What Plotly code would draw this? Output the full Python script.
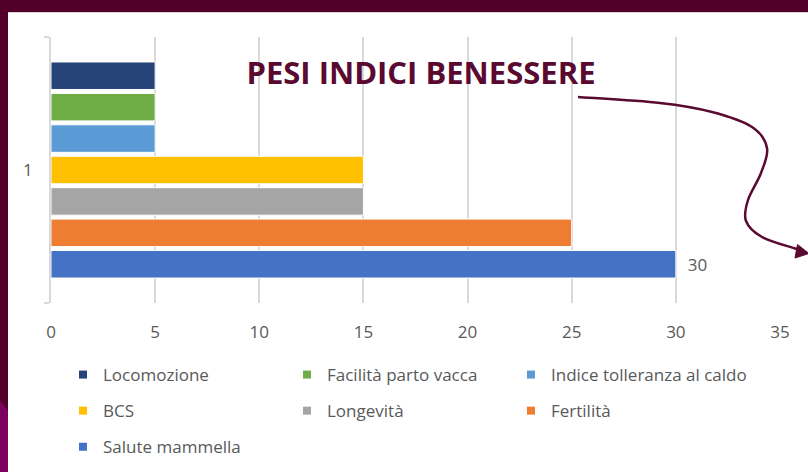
import plotly.graph_objects as go

# ---- data ----
series_names = ["Salute mammella", "Fertilità", "Longevità", "BCS",
                "Indice tolleranza al caldo", "Facilità parto vacca", "Locomozione"]
series_values = [30, 25, 15, 15, 5, 5, 5]
series_colors = ["#4472C4", "#ED7D31", "#A5A5A5", "#FFC000",
                 "#5B9BD5", "#70AD47", "#264478"]
category = ["1"]
x_ticks = [0, 5, 10, 15, 20, 25, 30, 35]
labelled_series = ["Salute mammella"]
# legend columns (top-to-bottom within each column)
legend_cols = [["Locomozione", "BCS", "Salute mammella"],
               ["Facilità parto vacca", "Longevità"],
               ["Indice tolleranza al caldo", "Fertilità"]]

W, H = 808, 472
L, R, T, B = 51, 780, 37, 303
PW, PH = R - L, B - T


def px(x):
    return (x - L) / PW


def py(y):
    return (B - y) / PH


GRAY = "#595959"
GRID = "#D9D9D9"
MAROON = "#520027"
DARK = "#5A0A30"
FONT = "Open Sans"

fig = go.Figure()

for name, val, col in zip(series_names, series_values, series_colors):
    show_lbl = name in labelled_series
    fig.add_trace(go.Bar(
        y=category, x=[val], name=name, orientation="h",
        marker=dict(color=col, line=dict(color="white", width=1)),
        text=["\u00a0\u00a0" + str(val)] if show_lbl else None,
        textposition="outside" if show_lbl else "none",
        textfont=dict(color=GRAY, size=17, family=FONT),
        cliponaxis=False, showlegend=False,
    ))

# legend entries (small square markers), one vertical legend per column
legend_ids = ["legend", "legend2", "legend3"]
for colnames, lid in zip(legend_cols, legend_ids):
    for name in colnames:
        col = series_colors[series_names.index(name)]
        fig.add_trace(go.Scatter(
            x=[None], y=[None], mode="markers", name=name,
            marker=dict(symbol="square", size=8, color=col),
            legend=lid, legendgroup=name, showlegend=True, hoverinfo="skip",
        ))

legend_cols_x = [63, 287, 511]
leg_common = dict(orientation="v",
                  font=dict(size=17, color=GRAY, family=FONT),
                  bgcolor="rgba(0,0,0,0)", borderwidth=0,
                  xanchor="left", yanchor="top", itemwidth=30,
                  tracegroupgap=11, traceorder="grouped")

shapes = [
    # maroon frame
    dict(type="rect", xref="paper", yref="paper", x0=px(0), x1=px(W), y0=py(0), y1=py(12),
         fillcolor=MAROON, line=dict(width=0), layer="below"),
    dict(type="rect", xref="paper", yref="paper", x0=px(0), x1=px(8), y0=py(0), y1=py(H),
         fillcolor=MAROON, line=dict(width=0), layer="below"),
    dict(type="path", xref="paper", yref="paper",
         path=f"M {px(0)},{py(400)} L {px(8)},{py(411)} L {px(8)},{py(H)} L {px(0)},{py(H)} Z",
         fillcolor="#7B005F", line=dict(width=0), layer="below"),
    dict(type="line", xref="paper", yref="paper", x0=px(8), x1=px(W), y0=py(12.5), y1=py(12.5),
         line=dict(color="#D8D8D8", width=1), layer="below"),
]

# decorative curved arrow (Catmull-Rom through guide points)
pts = [(578, 97), (578, 97), (660, 103), (712, 112), (752, 127), (767, 148),
       (761, 173), (748, 200), (746, 221), (762, 237), (795, 248.5), (799, 250), (799, 250)]
p = f"M {px(pts[1][0])},{py(pts[1][1])}"
for i in range(1, len(pts) - 2):
    p0, p1, p2, p3 = pts[i - 1], pts[i], pts[i + 1], pts[i + 2]
    c1 = (p1[0] + (p2[0] - p0[0]) / 6, p1[1] + (p2[1] - p0[1]) / 6)
    c2 = (p2[0] - (p3[0] - p1[0]) / 6, p2[1] - (p3[1] - p1[1]) / 6)
    p += (f" C {px(c1[0])},{py(c1[1])} {px(c2[0])},{py(c2[1])} "
          f"{px(p2[0])},{py(p2[1])}")
shapes.append(dict(type="path", xref="paper", yref="paper", path=p,
                   line=dict(color=DARK, width=2.5)))
head = [(809, 253.5), (797.5, 244.5), (795, 258)]
shapes.append(dict(type="path", xref="paper", yref="paper",
                   path="M " + " L ".join(f"{px(x)},{py(y)}" for x, y in head) + " Z",
                   fillcolor=DARK, line=dict(color=DARK, width=1)))

layout_legends = {}
for lid, xx in zip(legend_ids, legend_cols_x):
    layout_legends[lid] = dict(leg_common, x=px(xx), y=py(357))

fig.update_layout(
    width=W, height=H,
    margin=dict(l=L, r=W - R, t=T, b=H - B, autoexpand=False),
    paper_bgcolor="white", plot_bgcolor="white",
    barmode="group", bargap=0.173, bargroupgap=0.125,
    font=dict(family=FONT, color=GRAY),
    title=dict(text="<b>PESI INDICI BENESSERE</b>", font=dict(size=31, color=DARK, family=FONT),
               x=421 / W, xref="container", xanchor="center",
               y=1 - 73 / H, yref="container", yanchor="middle"),
    xaxis=dict(range=[0, 35], tickvals=x_ticks, showgrid=True, gridcolor=GRID, gridwidth=1.5,
               zeroline=False, showline=False, ticks="", ticklabelstandoff=17,
               tickfont=dict(size=17, color=GRAY, family=FONT), fixedrange=True),
    yaxis=dict(type="category", categoryorder="array", categoryarray=category,
               showgrid=False, zeroline=False, showline=True, linecolor=GRID, linewidth=1.5,
               ticks="outside", tickson="boundaries", ticklen=5, tickcolor=GRID, tickwidth=1.5,
               ticklabelstandoff=13, tickfont=dict(size=17, color=GRAY, family=FONT)),
    shapes=shapes,
    showlegend=True,
    **layout_legends,
)

fig.write_html("out.html", config={"displayModeBar": False},
               post_script="document.body.style.margin='0';")
